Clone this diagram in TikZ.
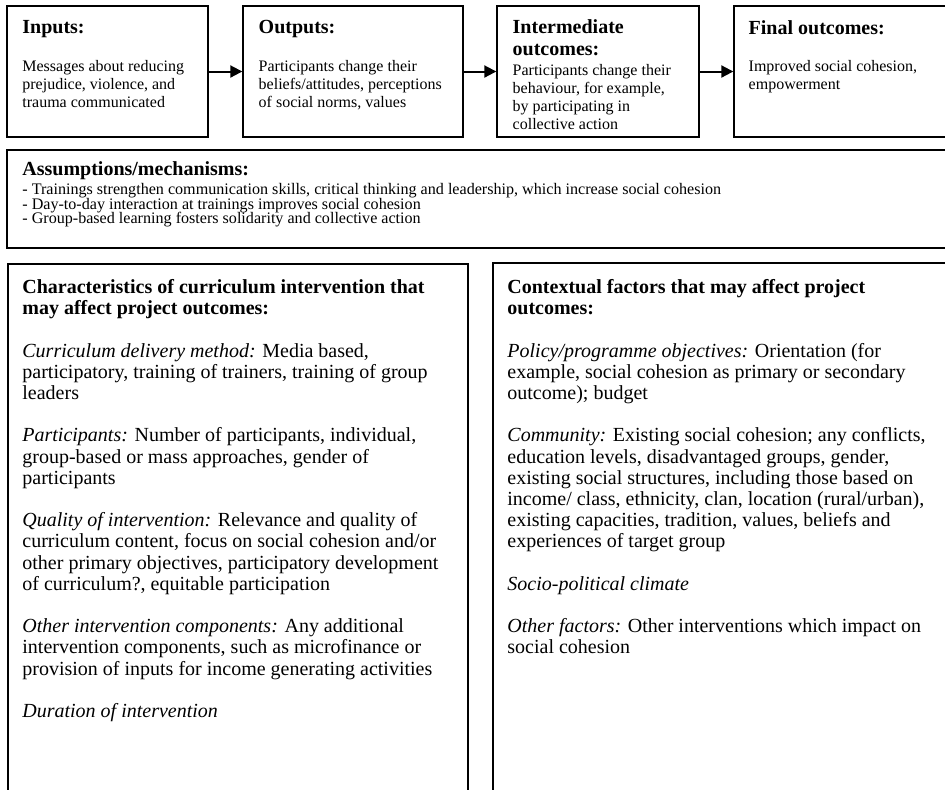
\documentclass[tikz,border=0pt]{standalone}
\usepackage{fontspec}
\setmainfont{Liberation Serif}
\usetikzlibrary{arrows.meta,calc}

\newcommand\tightlines{\lineskiplimit-5pt\relax}

\tikzset{
  box/.style={draw,line width=1pt,anchor=north west,inner sep=0pt},
  head/.style={anchor=north west,inner sep=0pt,align=left,
    font=\fontsize{10}{11.25}\selectfont\bfseries},
  body/.style={anchor=north west,inner sep=0pt,align=left,
    font=\fontsize{8}{9}\selectfont},
  listing/.style={anchor=north west,inner sep=0pt,align=left,
    font=\fontsize{8.05}{7.3}\selectfont\tightlines},
  note/.style={anchor=north west,inner sep=0pt,align=left,
    font=\fontsize{10}{10.6}\selectfont},
  arr/.style={line width=1pt,-{Triangle[length=6pt,width=6pt]}}
}

\begin{document}
\begin{tikzpicture}[x=0.5pt,y=-0.5pt]
  \useasboundingbox (0,0) rectangle (945,789);
  \clip (0,0) rectangle (945,789);

  \node[box,minimum width=100.25pt,minimum height=65.5pt] (inp) at (6,5) {};
  \node[box,minimum width=109.7pt,minimum height=65.5pt] (out) at (242.3,5) {};
  \node[box,minimum width=100.7pt,minimum height=65.5pt] (inter) at (496.3,5) {};
  \node[box,minimum width=113.35pt,minimum height=65.5pt] (fin) at (733.3,5) {};
  \foreach \a/\b in {inp/out,out/inter,inter/fin}
    \draw[arr] (\a) -- (\b);

  \node[head] (inph) at ($(inp.north west)+(16,15)$) {Inputs:};
  \node[body] (inpb) at ($(inp.north west)+(16,55)$)
    {Messages about reducing\\prejudice, violence, and\\trauma communicated};
  \node[head] (outh) at ($(out.north west)+(16,15)$) {Outputs:};
  \node[body] (outb) at ($(out.north west)+(16,55)$)
    {Participants change their\\beliefs/attitudes, perceptions\\of social norms, values};
  \node[head] (interh) at ($(inter.north west)+(16,14)$) {Intermediate\\outcomes:};
  \node[body] (interb) at ($(inter.north west)+(16,59)$)
    {Participants change their\\behaviour, for example,\\by participating in\\collective action};
  \node[head] (finh) at ($(fin.north west)+(15,15)$) {Final outcomes:};
  \node[body] (finb) at ($(fin.north west)+(15,55)$)
    {Improved social cohesion,\\empowerment};

  \node[box,minimum width=477pt,minimum height=49pt] (ass) at (6,149) {};
  \node[head] (assh) at ($(ass.north west)+(16,12.4)$) {Assumptions/mechanisms:};
  \node[listing] (assb) at ($(ass.north west)+(16,34)$)
    {- Trainings strengthen communication skills, critical thinking and leadership, which increase social cohesion\\
     - Day-to-day interaction at trainings improves social cohesion\\
     - Group-based learning fosters solidarity and collective action};

  \node[box,minimum width=230pt,minimum height=280pt] (chars) at (7,263) {};
  \node[note] (charst) at ($(chars.north west)+(15,16)$)
    {\textbf{Characteristics of curriculum intervention that}\\
     \textbf{may affect project outcomes:}\\[10.6pt]
     \textit{Curriculum delivery method:} Media based,\\
     participatory, training of trainers, training of group\\
     leaders\\[10.6pt]
     \textit{Participants:} Number of participants, individual,\\
     group-based or mass approaches, gender of\\
     participants\\[10.6pt]
     \textit{Quality of intervention:} Relevance and quality of\\
     curriculum content, focus on social cohesion and/or\\
     other primary objectives, participatory development\\
     of curriculum?, equitable participation\\[10.6pt]
     \textit{Other intervention components:} Any additional\\
     intervention components, such as microfinance or\\
     provision of inputs for income generating activities\\[10.6pt]
     \textit{Duration of intervention}};

  \node[box,minimum width=235pt,minimum height=280pt] (ctx) at (492,262) {};
  \node[note] (ctxt) at ($(ctx.north west)+(15,17)$)
    {\textbf{Contextual factors that may affect project}\\
     \textbf{outcomes:}\\[10.6pt]
     \textit{Policy/programme objectives:} Orientation (for\\
     example, social cohesion as primary or secondary\\
     outcome); budget\\[10.6pt]
     \textit{Community:} Existing social cohesion; any conflicts,\\
     education levels, disadvantaged groups, gender,\\
     existing social structures, including those based on\\
     income/ class, ethnicity, clan, location (rural/urban),\\
     existing capacities, tradition, values, beliefs and\\
     experiences of target group\\[10.6pt]
     \textit{Socio-political climate}\\[10.6pt]
     \textit{Other factors:} Other interventions which impact on\\
     social cohesion};
\end{tikzpicture}
\end{document}
